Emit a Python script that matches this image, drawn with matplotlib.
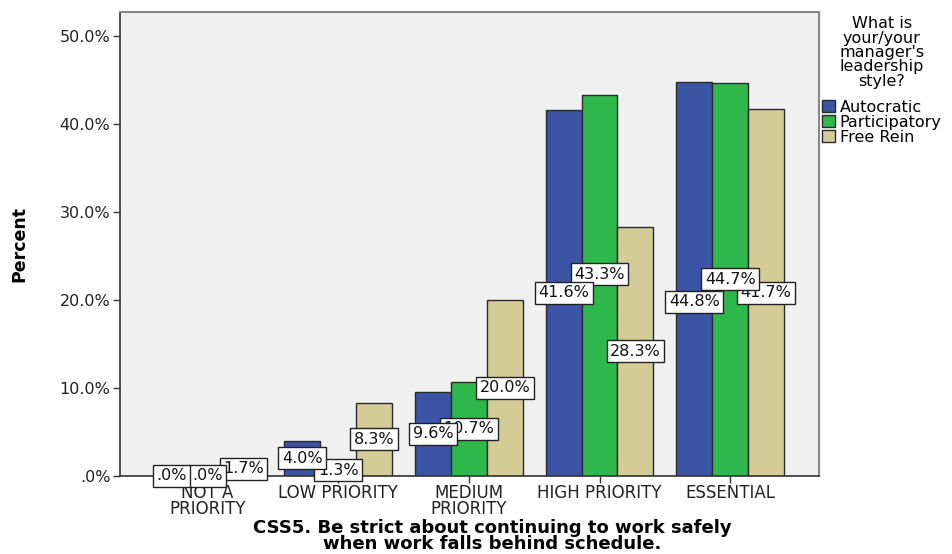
import matplotlib
matplotlib.use("Agg")
import matplotlib.pyplot as plt
import numpy as np
from matplotlib.patches import Patch

categories = ["NOT A\nPRIORITY", "LOW PRIORITY", "MEDIUM\nPRIORITY", "HIGH PRIORITY", "ESSENTIAL"]
series_names = ["Autocratic", "Participatory", "Free Rein"]
autocratic = [0.0, 4.0, 9.6, 41.6, 44.8]
participatory = [0.0, 1.3, 10.7, 43.3, 44.7]
free_rein = [1.7, 8.3, 20.0, 28.3, 41.7]
values = [autocratic, participatory, free_rein]

colors = ["#3C54A6", "#2EB84B", "#D4CC96"]
# label displacement in pixels (SPSS collision avoidance), per series per category
label_shift_px = [[0, 0, 0, 0, -23],
                  [0, 0, 0, 11, 0],
                  [0, 0, 0, 0, 0]]

W, H = 953, 554
fig = plt.figure(figsize=(W / 100, H / 100), dpi=100)
ax = fig.add_axes([120 / W, 1 - 476 / H, (819 - 120) / W, (476 - 12) / H])
ax.set_facecolor("#F0F0F0")

x = np.arange(len(categories))
bw = 0.275
for i, (vals, col) in enumerate(zip(values, colors)):
    xs = x + (i - 1) * bw
    ax.bar(xs, vals, width=bw, color=col, edgecolor="#2a2a2a", linewidth=1.0, zorder=2)
    for j, (xx, v) in enumerate(zip(xs, vals)):
        lab = ".0%" if v == 0 else f"{v:.1f}%"
        ax.annotate(lab, xy=(xx, v / 2), xytext=(0, label_shift_px[i][j] * 0.72),
                    textcoords="offset points", ha="center", va="center",
                    fontsize=11.5, family="DejaVu Sans", color="#111111",
                    bbox=dict(boxstyle="square,pad=0.22", fc="white", ec="#222222", lw=1.0),
                    zorder=10 - i)

ax.set_xlim(-0.67, 4.68)
ax.set_ylim(0, (476 - 12) / 8.8)
ax.set_yticks([0, 10, 20, 30, 40, 50])
ax.set_yticklabels([".0%", "10.0%", "20.0%", "30.0%", "40.0%", "50.0%"],
                   fontsize=11.5, family="DejaVu Sans", color="#222222")
ax.set_xticks(x)
ax.set_xticklabels(categories, fontsize=12, family="DejaVu Sans", color="#222222",
                   linespacing=0.85)
ax.tick_params(axis="both", direction="out", length=5, width=1, color="#333333")
ax.tick_params(axis="x", pad=1)
ax.tick_params(axis="y", pad=2)

for s in ["left", "bottom"]:
    ax.spines[s].set_color("#333333")
    ax.spines[s].set_linewidth(1.2)
for s in ["top", "right"]:
    ax.spines[s].set_color("#888888")
    ax.spines[s].set_linewidth(1.5)

fig.text(19 / W, 1 - 244 / H, "Percent", rotation=90, ha="center", va="center",
         fontsize=12.5, fontweight="bold", family=["DejaVu Sans Condensed", "DejaVu Sans"])
fig.text(492 / W, 1 - 536 / H,
         "CSS5. Be strict about continuing to work safely\nwhen work falls behind schedule.",
         ha="center", va="center", fontsize=13, fontweight="bold", family="DejaVu Sans",
         linespacing=0.85, multialignment="center")

handles = [Patch(facecolor=c, edgecolor="#2a2a2a", lw=1.0) for c in colors]
leg = fig.legend(handles, series_names, loc="upper left",
                 bbox_to_anchor=(819 / W, 1 - 13 / H),
                 title="What is\nyour/your\nmanager's\nleadership\nstyle?",
                 frameon=False, fontsize=11.5, title_fontsize=11.5,
                 handlelength=0.8, handleheight=0.8, handletextpad=0.3,
                 labelspacing=0.0, borderpad=0.2, borderaxespad=0)
leg.get_title().set_multialignment("center")
leg.get_title().set_linespacing(0.95)
leg._legend_box.sep = 8

fig.savefig("out.png", dpi=100)
